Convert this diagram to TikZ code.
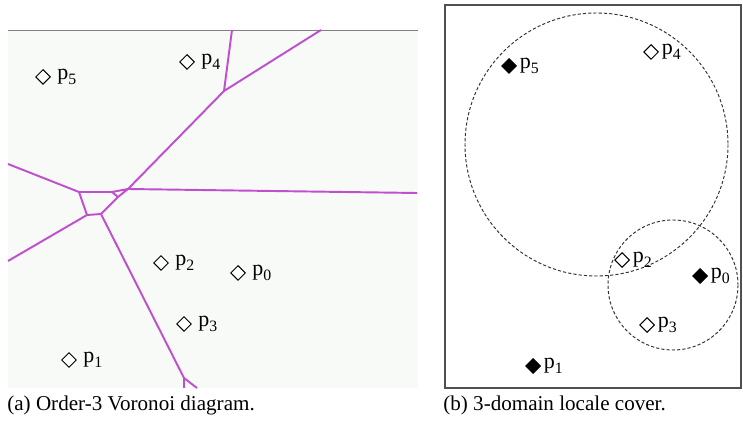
\documentclass[tikz,border=0pt]{standalone}
\usepackage{fontspec}
\setmainfont{Liberation Serif}
\usetikzlibrary{shapes.geometric,positioning}
\definecolor{VorEdge}{HTML}{C04FD0}
\definecolor{VorPane}{HTML}{F7FAF6}
\definecolor{FrameGray}{HTML}{505050}
\newcommand{\sitename}[1]{p\raisebox{-0.45ex}{\fontsize{9}{9}\selectfont #1}}

\begin{document}
\begin{tikzpicture}[x=0.02cm, y=-0.02cm,
  site/.style={draw, shape=diamond, inner sep=0pt, minimum size=8.5pt, line width=0.6pt},
  hub/.style={site, fill=black},
  tag/.style={font=\fontsize{12.5}{12.5}\selectfont, inner sep=0.5pt},
  vedge/.style={VorEdge, line width=1.1pt, line join=round},
  cover/.style={draw=black!80, dash pattern=on 1.8pt off 1.2pt, line width=0.55pt},
  caption/.style={font=\fontsize{12}{12}\selectfont, anchor=west, inner sep=0pt},
  every node/.style={align=center}]
  \useasboundingbox (0,0) rectangle (743,428);

  % (a) order-3 voronoi
  \fill[VorPane] (8,30) rectangle (418,388);
  \draw[gray, line width=0.5pt] (8,30) -- (418,30);
  \foreach \name/\x/\y in {t1/232/30, t2/321/30, va/224/91, vl/79/192, vt1/112/192,
      vt2/128/189, vt3/118/197, vb1/87/215, vb2/101/214, ve/184/378,
      wl1/8/164, wl2/8/261, wr/417/193, bo1/184/388, bo2/197/388}
    \coordinate (\name) at (\x,\y);
  \draw[vedge] (t1) -- (va) -- (t2);
  \draw[vedge] (va) -- (vt2) -- (wr);
  \draw[vedge] (wl1) -- (vl) -- (vt1) -- (vt2) -- (vt3) -- (vt1);
  \draw[vedge] (vt3) -- (vb2) -- (vb1) -- (vl);
  \draw[vedge] (vb1) -- (wl2);
  \draw[vedge] (vb2) -- (ve) -- (bo1);
  \draw[vedge] (ve) -- (bo2);
  \foreach \n/\x/\y in {5/43/77, 4/187/62, 2/161/263, 0/238/273, 3/184/324, 1/69/360}
    \node[site, fill=white, label={[tag, label distance=3pt]right:\sitename{\n}}] (a\n) at (\x,\y) {};

  % (b) locale cover
  \draw[FrameGray, line width=0.8pt] (445,5) rectangle (741,388);
  \coordinate (big) at (596.5,144.5);
  \coordinate (small) at (673,285);
  \draw[cover] (big) circle [radius=131.5];
  \draw[cover] (small) circle [radius=65];
  \foreach \n/\x/\y/\kind in {5/509/66/hub, 4/651/52/site, 2/622/260/site,
      0/700/276/hub, 3/647/325/site, 1/533/366/hub}
    \node[\kind, label={[tag, label distance=1pt]right:\sitename{\n}}] (b\n) at (\x,\y) {};

  \node[caption] (capa) at (7,405) {(a) Order-3 Voronoi diagram.};
  \node[caption] (capb) at (443,405) {(b) 3-domain locale cover.};
\end{tikzpicture}
\end{document}
